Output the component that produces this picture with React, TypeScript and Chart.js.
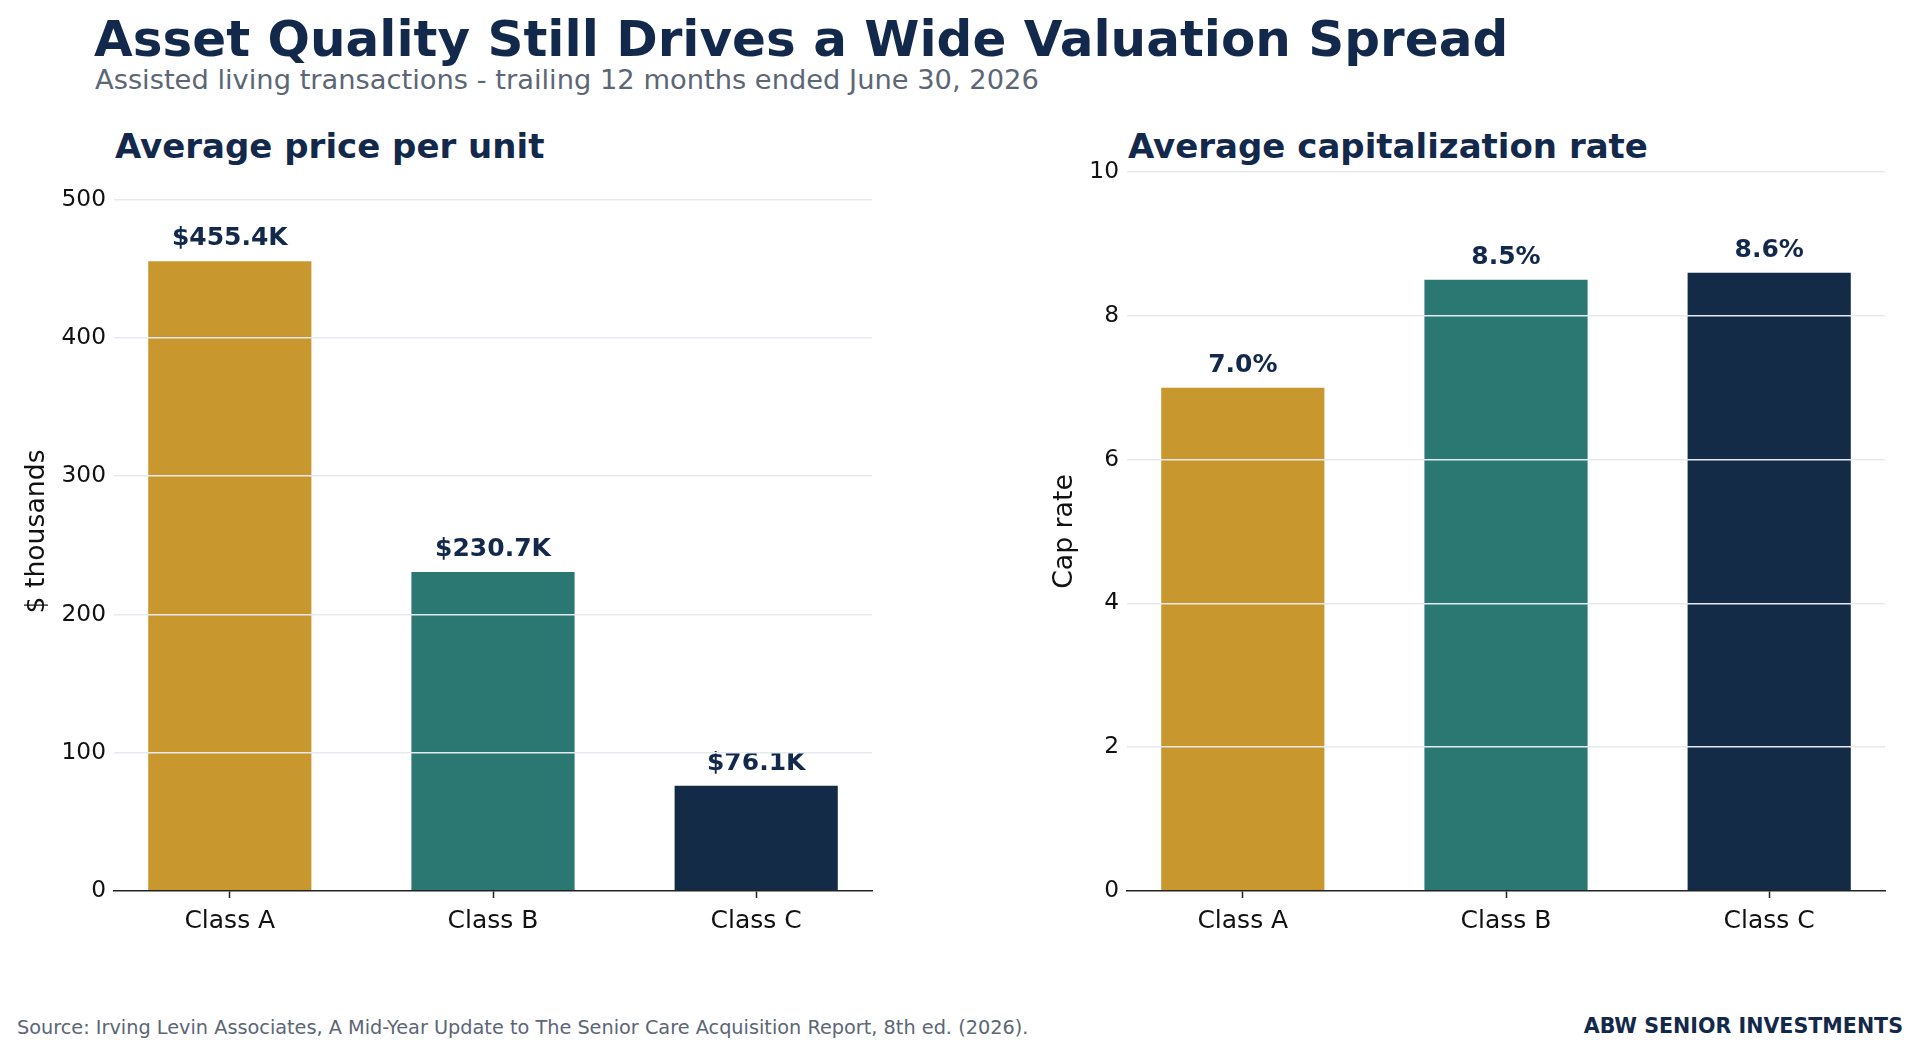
import { useEffect, useRef } from 'react';
import { Chart, registerables } from 'chart.js';

Chart.register(...registerables);

const classes = ['Class A', 'Class B', 'Class C'];
const pricePerUnit = [455.4, 230.7, 76.1];
const capRate = [7.0, 8.5, 8.6];
const priceTicks = [0, 100, 200, 300, 400, 500];
const capTicks = [0, 2, 4, 6, 8, 10];
const barColors = ['#C8982E', '#2B7873', '#132B47'];

const NAVY = '#13294B';
const GRAY = '#5B6676';
const FONT = '"DejaVu Sans", sans-serif';

const valueLabels = {
  id: 'valueLabels',
  afterDatasetsDraw(chart: any, _args: any, opts: any) {
    const { ctx } = chart;
    const meta = chart.getDatasetMeta(0);
    ctx.save();
    ctx.font = `bold 25px ${FONT}`;
    ctx.fillStyle = NAVY;
    ctx.textAlign = 'center';
    ctx.textBaseline = 'alphabetic';
    meta.data.forEach((bar: any, i: number) => {
      const v = chart.data.datasets[0].data[i].y;
      ctx.fillText(opts.format(v), bar.x, bar.y - 16);
    });
    ctx.restore();
  },
};

interface PanelProps {
  values: number[];
  ticks: number[];
  yMax: number;
  yTitle: string;
  format: (v: number) => string;
  yWidth: number;
  titlePad: number;
  padRight: number;
}

function BarPanel({ values, ticks, yMax, yTitle, format, yWidth, titlePad, padRight }: PanelProps) {
  const canvasRef = useRef<HTMLCanvasElement>(null);
  const chartRef = useRef<Chart | null>(null);

  useEffect(() => {
    if (!canvasRef.current) return;
    chartRef.current?.destroy();
    chartRef.current = new Chart(canvasRef.current, {
      type: 'bar',
      data: {
        datasets: [
          {
            data: values.map((v, i) => ({ x: i, y: v })) as any,
            backgroundColor: barColors,
            barPercentage: 0.62,
            categoryPercentage: 1,
          },
        ],
      },
      options: {
        animation: false,
        responsive: false,
        devicePixelRatio: 1,
        layout: { padding: { top: 48, right: padRight, left: 0, bottom: 0 } },
        plugins: {
          legend: { display: false },
          tooltip: { enabled: false },
          valueLabels: { format },
        } as any,
        scales: {
          x: {
            type: 'linear',
            min: -0.44,
            max: 2.44,
            offset: false,
            afterBuildTicks: (axis: any) => {
              axis.ticks = classes.map((_, i) => ({ value: i }));
            },
            afterFit: (axis: any) => {
              axis.height = 60;
            },
            ticks: {
              callback: (v: any) => classes[v] ?? '',
              color: '#111',
              font: { family: FONT, size: 25 },
              padding: 8,
              maxRotation: 0,
              autoSkip: false,
            },
            grid: {
              offset: false,
              drawOnChartArea: false,
              drawTicks: true,
              tickLength: 7,
              tickColor: '#222',
              tickWidth: 1.5,
            },
            border: { display: true, color: '#222', width: 1.5, z: 2 },
          },
          y: {
            min: 0,
            max: yMax,
            afterBuildTicks: (axis: any) => {
              axis.ticks = ticks.map((t) => ({ value: t }));
            },
            afterFit: (axis: any) => {
              axis.width = yWidth;
            },
            ticks: {
              color: '#111',
              font: { family: FONT, size: 23.3 },
              padding: 8,
            },
            grid: {
              color: (c: any) => (c.tick && c.tick.value === 0 ? 'rgba(0,0,0,0)' : '#E6EAF0'),
              lineWidth: 1.5,
              drawTicks: false,
              z: 1,
            },
            border: { display: false },
            title: {
              display: true,
              text: yTitle,
              color: '#111',
              font: { family: FONT, size: 26.7 },
              padding: { top: titlePad, bottom: 0 },
            },
          },
        },
      },
      plugins: [valueLabels],
    });
    return () => {
      chartRef.current?.destroy();
    };
  }, [values, ticks, yMax, yTitle, format, yWidth, titlePad, padRight]);

  return <canvas ref={canvasRef} style={{ display: 'block', width: '100%', height: '100%' }} />;
}

const text = (extra: React.CSSProperties): React.CSSProperties => ({
  position: 'absolute',
  fontFamily: FONT,
  lineHeight: 1,
  whiteSpace: 'nowrap',
  margin: 0,
  ...extra,
});

export default function App() {
  return (
    <div
      style={{
        position: 'absolute',
        left: 0,
        top: 0,
        width: 1920,
        height: 1054,
        background: '#fff',
        overflow: 'hidden',
      }}
    >
      <div style={text({ left: 94, top: 14, fontSize: 50, fontWeight: 'bold', color: NAVY })}>
        Asset Quality Still Drives a Wide Valuation Spread
      </div>
      <div style={text({ left: 95, top: 66, fontSize: 27.3, color: GRAY })}>
        Assisted living transactions - trailing 12 months ended June 30, 2026
      </div>

      <div style={text({ left: 115, top: 129, fontSize: 34, fontWeight: 'bold', color: NAVY })}>
        Average price per unit
      </div>
      <div style={text({ left: 1128, top: 129, fontSize: 34, fontWeight: 'bold', color: NAVY })}>
        Average capitalization rate
      </div>

      <div style={{ position: 'absolute', left: 0, top: 124, width: 900, height: 827 }}>
        <BarPanel
          values={pricePerUnit}
          ticks={priceTicks}
          yMax={520}
          yTitle="$ thousands"
          format={(v) => `$${v.toFixed(1)}K`}
          yWidth={114}
          titlePad={21}
          padRight={28}
        />
      </div>
      <div style={{ position: 'absolute', left: 1010, top: 124, width: 910, height: 827 }}>
        <BarPanel
          values={capRate}
          ticks={capTicks}
          yMax={10}
          yTitle="Cap rate"
          format={(v) => `${v.toFixed(1)}%`}
          yWidth={117}
          titlePad={39}
          padRight={35}
        />
      </div>

      <div style={text({ left: 17, top: 1018, fontSize: 19.3, color: GRAY })}>
        Source: Irving Levin Associates, A Mid-Year Update to The Senior Care Acquisition Report, 8th ed. (2026).
      </div>
      <div style={text({ right: 17, top: 1016, fontSize: 20.6, fontWeight: 'bold', color: NAVY })}>
        ABW SENIOR INVESTMENTS
      </div>
    </div>
  );
}
